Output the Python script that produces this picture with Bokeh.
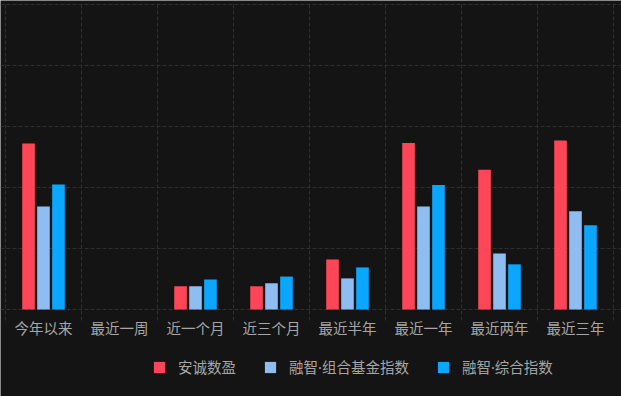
from bokeh.plotting import figure
from bokeh.models import ColumnDataSource, FixedTicker, Range1d, Legend, LegendItem
from bokeh.core.properties import value
from bokeh.transform import dodge
from bokeh.embed import file_html
from bokeh.resources import INLINE

categories = ["今年以来", "最近一周", "近一个月", "近三个月", "最近半年", "最近一年", "最近两年", "最近三年"]
series_names = ["安诚数盈", "融智·组合基金指数", "融智·综合指数"]
anchen = [27.2, 0, 3.8, 3.8, 8.2, 27.3, 22.9, 27.7]
zuhe = [16.9, 0, 3.8, 4.3, 5.1, 16.9, 9.2, 16.1]
zonghe = [20.5, 0, 4.9, 5.4, 6.9, 20.4, 7.4, 13.8]
y_ticks = [0, 10, 20, 30, 40, 50]
colors = ["#ff4658", "#8fbdf2", "#0ba6ff"]

FONT = "'Noto Sans', 'Noto Sans CJK SC'"
BG = "#141414"
TXT = "#a6a6a6"
GRID = "#2f2f2f"

n = len(categories)
centers = [i + 0.5 for i in range(n)]
src = ColumnDataSource(dict(x=centers, a=anchen, b=zuhe, c=zonghe, lab=categories))

PX = 6.1  # pixels per value unit
p = figure(width=621, height=396, output_backend="svg", toolbar_location=None,
           x_range=Range1d(-5 / 76, n + 8 / 76), y_range=Range1d(-87 / PX, 309 / PX),
           min_border=0)
p.background_fill_color = BG
p.border_fill_color = BG
p.outline_line_color = None
p.xaxis.visible = False
p.yaxis.visible = False
p.xgrid.visible = False

p.ygrid.ticker = FixedTicker(ticks=y_ticks)
p.ygrid.grid_line_color = GRID
p.ygrid.grid_line_dash = "4 2"

# category separators
bounds = list(range(n + 1))
p.segment(x0=bounds, x1=bounds, y0=[-11 / PX] * len(bounds), y1=[max(y_ticks)] * len(bounds),
          line_color=GRID, line_dash="4 2", line_width=1)

w = 0.166
off = 0.197
renderers = []
for field, col, o in zip(["a", "b", "c"], colors, [-off, 0, off]):
    r = p.vbar(x=dodge("x", o), top=field, width=w, source=src, fill_color=col, line_color=None)
    renderers.append(r)

p.text(x="x", y=-18 / PX, text="lab", source=src, text_align="center", text_baseline="middle",
       text_color=TXT, text_font=value(FONT), text_font_size="14.5px")

legend = Legend(items=[LegendItem(label=s, renderers=[r]) for s, r in zip(series_names, renderers)],
                orientation="horizontal", location=(152, 19))
legend.background_fill_alpha = 0
legend.border_line_color = None
legend.label_text_color = TXT
legend.label_text_font = FONT
legend.label_text_font_size = "14.5px"
legend.glyph_width = 14
legend.glyph_height = 14
legend.label_standoff = 12
legend.spacing = 27
legend.padding = 4
legend.margin = 0
p.add_layout(legend, "center")

open("out.html", "w").write(file_html(p, INLINE))
